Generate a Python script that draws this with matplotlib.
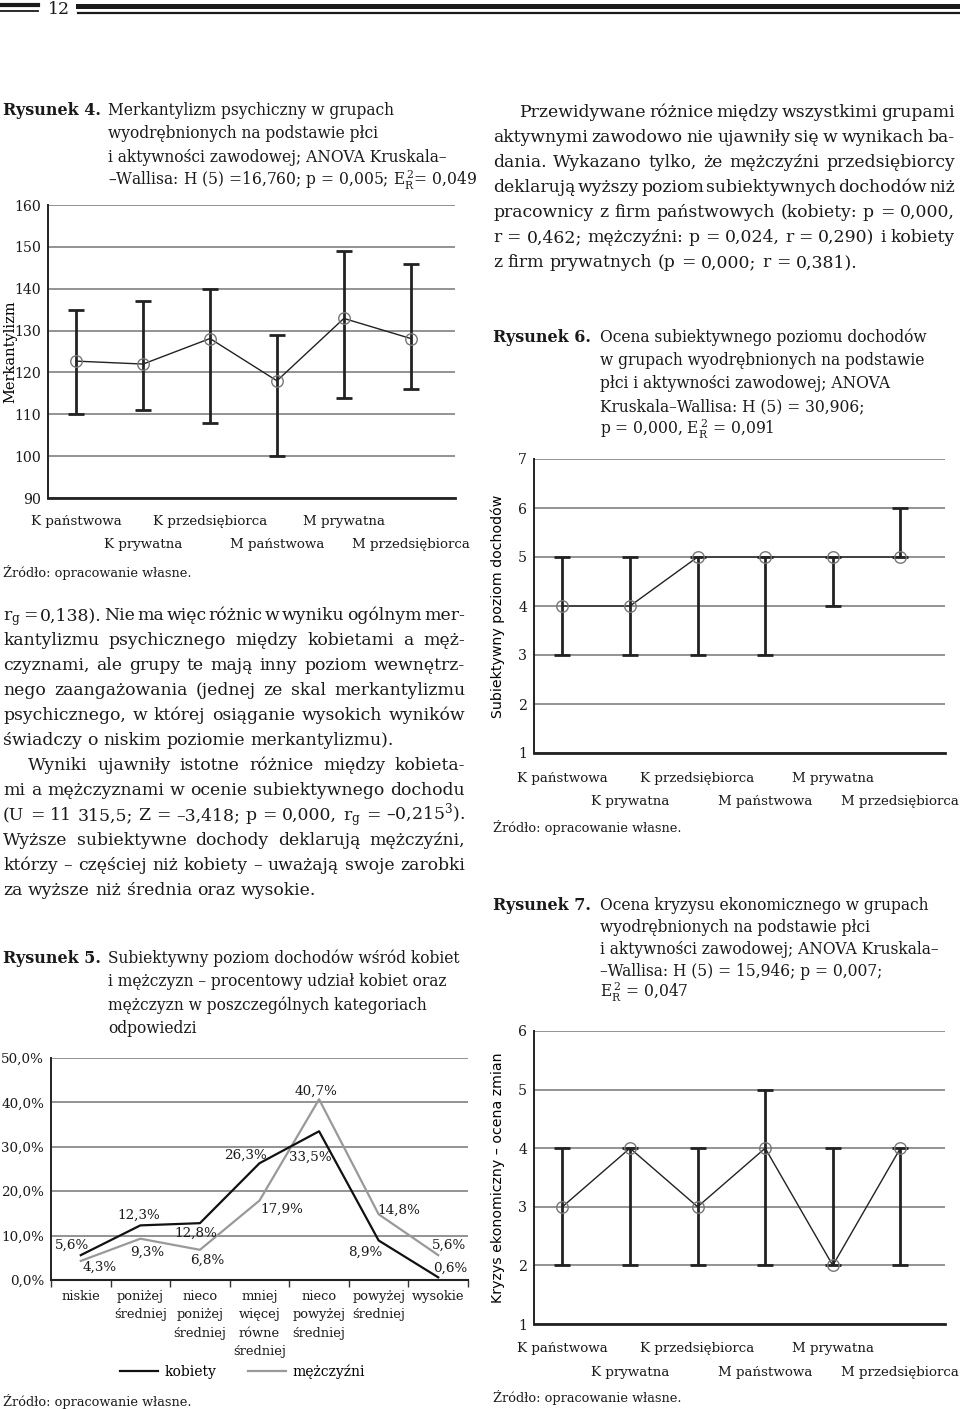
import matplotlib
matplotlib.use('Agg')
import matplotlib.pyplot as plt
from matplotlib.lines import Line2D
import numpy as np

W, H = 960, 1409
plt.rcParams['font.family'] = ['DejaVu Serif']
plt.rcParams['mathtext.fontset'] = 'dejavuserif'

# ---------------- data ----------------
groups = ['K państwowa', 'K prywatna', 'K przedsiębiorca',
          'M państwowa', 'M prywatna', 'M przedsiębiorca']
merk_mean = [122.7, 122.0, 128.1, 118.0, 132.9, 128.1]
merk_low = [110, 111, 108, 100, 114, 116]
merk_high = [135, 137, 140, 129, 149, 146]
merk_ticks = [90, 100, 110, 120, 130, 140, 150, 160]

doch_median = [4, 4, 5, 5, 5, 5]
doch_low = [3, 3, 3, 3, 4, 5]
doch_high = [5, 5, 5, 5, 5, 6]
doch_ticks = [1, 2, 3, 4, 5, 6, 7]

kryz_median = [3, 4, 3, 4, 2, 4]
kryz_low = [2, 2, 2, 2, 2, 2]
kryz_high = [4, 4, 4, 5, 4, 4]
kryz_ticks = [1, 2, 3, 4, 5, 6]

income_cats = ['niskie', 'poniżej\nśredniej', 'nieco\nponiżej\nśredniej',
               'mniej\nwięcej\nrówne\nśredniej', 'nieco\npowyżej\nśredniej',
               'powyżej\nśredniej', 'wysokie']
kobiety = [5.6, 12.3, 12.8, 26.3, 33.5, 8.9, 0.6]
mezczyzni = [4.3, 9.3, 6.8, 17.9, 40.7, 14.8, 5.6]
pct_ticks = [0, 10, 20, 30, 40, 50]

# ---------------- helpers ----------------
fig = plt.figure(figsize=(W / 100, H / 100), dpi=100)
fig.patch.set_facecolor('white')
renderer = fig.canvas.get_renderer()


def fx(x):
    return x / W


def fy(y):
    return 1 - y / H


def text_width(s, **kw):
    t = fig.text(0, 0, s, **kw)
    w = t.get_window_extent(renderer).width
    t.remove()
    return w


BODY = 12.4
CAP = 11.2


def put_line(line, x0, x1, y, justify=True, size=BODY):
    kw = dict(fontsize=size, va='baseline', color='#1a1a1a')
    words = line.split(' ')
    widths = [text_width(w, **kw) for w in words]
    if justify and len(words) > 1:
        gap = (x1 - x0 - sum(widths)) / (len(words) - 1)
    else:
        gap = text_width('a a', **kw) - text_width('aa', **kw)
    x = x0
    for w, wd in zip(words, widths):
        fig.text(fx(x), fy(y), w, **kw)
        x += wd + gap


def caption(label, lines, x_lab, x_txt, y0, dy, size=CAP):
    fig.text(fx(x_lab), fy(y0), label, fontsize=size + 0.3, fontweight='bold',
             va='baseline', color='#1a1a1a')
    for i, l in enumerate(lines):
        fig.text(fx(x_txt), fy(y0 + i * dy), l, fontsize=size, va='baseline',
                 color='#1a1a1a')


def source(x, y):
    fig.text(fx(x), fy(y), 'Źródło: opracowanie własne.', fontsize=9.3,
             va='baseline', color='#1a1a1a')


def add_ax(l, t, r, b):
    return fig.add_axes([fx(l), fy(b), (r - l) / W, (b - t) / H])


def style_ax(ax):
    ax.set_axisbelow(True)
    ax.yaxis.grid(True, color='#8a8a8a', lw=1.3)
    for s in ['top', 'right']:
        ax.spines[s].set_visible(False)
    ax.spines['left'].set_linewidth(1.4)
    ax.spines['bottom'].set_linewidth(2.0)
    ax.spines['left'].set_color('#222')
    ax.spines['bottom'].set_color('#222')
    ax.tick_params(axis='y', length=0, labelsize=10.2, pad=5, colors='#1a1a1a')


def group_chart(ax, mean, low, high, yticks, ylabel, ylab_kw, ylab_x, pad1, pad2):
    pos = np.arange(len(groups))
    mean = np.array(mean, float)
    yerr = [mean - np.array(low), np.array(high) - mean]
    ax.errorbar(pos, mean, yerr=yerr, fmt='none', ecolor='#222', elinewidth=2.0,
                capsize=5.5, capthick=2.0, zorder=3)
    ax.plot(pos, mean, color='#222', lw=1.0, zorder=4)
    ax.plot(pos, mean, 'o', ms=8.3, mfc='none', mec='#777', mew=1.0, zorder=5)
    style_ax(ax)
    ax.set_ylim(yticks[0], yticks[-1])
    ax.set_yticks(yticks)
    ax.set_xlim(-0.42, 5.66)
    ax.set_xticks(pos[0::2], [groups[i] for i in pos[0::2]])
    ax.set_xticks(pos[1::2], [groups[i] for i in pos[1::2]], minor=True)
    ax.tick_params(axis='x', which='major', length=0, pad=pad1, labelsize=9.6,
                   colors='#1a1a1a')
    ax.tick_params(axis='x', which='minor', length=0, pad=pad2, labelsize=9.6,
                   colors='#1a1a1a')
    ax.set_ylabel(ylabel, va='center', **ylab_kw)
    ax.yaxis.set_label_coords(ylab_x, 0.5)


# ---------------- header ----------------
for (x0, x1, y, lw) in [(0, 38, 4.7, 3.0), (0, 38, 11.3, 1.3),
                        (78, 960, 5.8, 3.6), (78, 960, 12.5, 1.6)]:
    fig.add_artist(Line2D([fx(x0), fx(x1)], [fy(y), fy(y)],
                          transform=fig.transFigure, color='#1a1a1a', lw=lw))
fig.text(fx(59), fy(9), '12', fontsize=12.5, ha='center', va='center',
         color='#1a1a1a')

# ---------------- Rysunek 4 ----------------
caption('Rysunek 4.', ['Merkantylizm psychiczny w grupach',
                       'wyodrębnionych na podstawie płci',
                       'i aktywności zawodowej; ANOVA Kruskala–',
                       '–Wallisa: H (5) =16,760; p = 0,005; E$_{\\mathrm{R}}^{\\,2}$= 0,049'],
        3, 108, 115, 23.5)
ax4 = add_ax(48, 205, 455, 498)
group_chart(ax4, merk_mean, merk_low, merk_high, merk_ticks, 'Merkantylizm',
            dict(fontsize=10.5), (10 - 48) / 407, 12, 29)
source(3, 577)

# ---------------- left body text ----------------
left_lines = [
    ('r$_{\\mathrm{g}}$ = 0,138). Nie ma więc różnic w wyniku ogólnym mer-', True, 3),
    ('kantylizmu psychicznego między kobietami a męż-', True, 3),
    ('czyznami, ale grupy te mają inny poziom wewnętrz-', True, 3),
    ('nego zaangażowania (jednej ze skal merkantylizmu', True, 3),
    ('psychicznego, w której osiąganie wysokich wyników', True, 3),
    ('świadczy o niskim poziomie merkantylizmu).', False, 3),
    ('Wyniki ujawniły istotne różnice między kobieta-', True, 28),
    ('mi a mężczyznami w ocenie subiektywnego dochodu', True, 3),
    ('(U = 11 315,5; Z = –3,418; p = 0,000, r$_{\\mathrm{g}}$ = –0,215$^{3}$).', True, 3),
    ('Wyższe subiektywne dochody deklarują mężczyźni,', True, 3),
    ('którzy – częściej niż kobiety – uważają swoje zarobki', True, 3),
    ('za wyższe niż średnia oraz wysokie.', False, 3),
]
for i, (l, j, x0) in enumerate(left_lines):
    put_line(l, x0, 465, 620 + i * 25, justify=j)

# ---------------- Rysunek 5 ----------------
caption('Rysunek 5.', ['Subiektywny poziom dochodów wśród kobiet',
                       'i mężczyzn – procentowy udział kobiet oraz',
                       'mężczyzn w poszczególnych kategoriach',
                       'odpowiedzi'],
        3, 108, 963, 23.3)
ax5 = add_ax(51, 1058, 468, 1280)
pos5 = np.arange(len(income_cats))
ax5.plot(pos5, kobiety, color='#111', lw=1.6, label='kobiety', zorder=4)
ax5.plot(pos5, mezczyzni, color='#999', lw=1.6, label='mężczyźni', zorder=3)
style_ax(ax5)
ax5.spines['bottom'].set_linewidth(1.5)
ax5.set_ylim(0, 50)
ax5.set_yticks(pct_ticks, [f'{v:.1f}%'.replace('.', ',') for v in pct_ticks])
ax5.tick_params(axis='y', labelsize=9.7, pad=5)
ax5.set_xlim(-0.5, len(income_cats) - 0.5)
ax5.set_xticks(pos5, income_cats)
ax5.set_xticks(np.arange(len(income_cats) + 1) - 0.5, minor=True)
ax5.tick_params(axis='x', which='major', length=0, pad=7, labelsize=9.4,
                colors='#1a1a1a')
ax5.tick_params(axis='x', which='minor', length=5, width=1, direction='out',
                colors='#333')
for lab in ax5.get_xticklabels():
    lab.set_linespacing(1.55)
k_off = [(-9, 10), (-2, 10), (-4, -10), (-14, 8), (-9, -26), (-13, -12), (12, 9)]
m_off = [(19, -6), (7, -14), (7, -10), (22, -9), (-3, 8), (20, 4), (11, 10)]
for series, offs in [(kobiety, k_off), (mezczyzni, m_off)]:
    for i, (v, (dx, dy)) in enumerate(zip(series, offs)):
        ax5.annotate(f'{v:.1f}%'.replace('.', ','), (i, v),
                     xytext=(dx * 0.72, dy * 0.72), textcoords='offset points',
                     ha='center', va='center', fontsize=9.7, color='#1a1a1a',
                     zorder=6)
ax5.legend(loc='center', bbox_to_anchor=(0.46, -0.414), ncol=2, frameon=False,
           fontsize=10, handlelength=2.7, columnspacing=2.3, handletextpad=0.5)
source(3, 1406)

# ---------------- right body text ----------------
right_lines = [
    ('Przewidywane różnice między wszystkimi grupami', True, 519),
    ('aktywnymi zawodowo nie ujawniły się w wynikach ba-', True, 493),
    ('dania. Wykazano tylko, że mężczyźni przedsiębiorcy', True, 493),
    ('deklarują wyższy poziom subiektywnych dochodów niż', True, 493),
    ('pracownicy z firm państwowych (kobiety: p = 0,000,', True, 493),
    ('r = 0,462; mężczyźni: p = 0,024, r = 0,290) i kobiety', True, 493),
    ('z firm prywatnych (p = 0,000; r = 0,381).', False, 493),
]
for i, (l, j, x0) in enumerate(right_lines):
    put_line(l, x0, 955, 117 + i * 25, justify=j)

# ---------------- Rysunek 6 ----------------
caption('Rysunek 6.', ['Ocena subiektywnego poziomu dochodów',
                       'w grupach wyodrębnionych na podstawie',
                       'płci i aktywności zawodowej; ANOVA',
                       'Kruskala–Wallisa: H (5) = 30,906;',
                       'p = 0,000, E$_{\\mathrm{R}}^{\\,2}$ = 0,091'],
        493, 600, 342, 23)
ax6 = add_ax(534, 459, 945, 753)
group_chart(ax6, doch_median, doch_low, doch_high, doch_ticks,
            'Subiektywny poziom dochodów',
            dict(fontsize=10.2, family='DejaVu Sans'), (498 - 534) / 411, 14, 30)
source(493, 832)

# ---------------- Rysunek 7 ----------------
caption('Rysunek 7.', ['Ocena kryzysu ekonomicznego w grupach',
                       'wyodrębnionych na podstawie płci',
                       'i aktywności zawodowej; ANOVA Kruskala–',
                       '–Wallisa: H (5) = 15,946; p = 0,007;',
                       'E$_{\\mathrm{R}}^{\\,2}$ = 0,047'],
        493, 600, 910, 22)
ax7 = add_ax(534, 1031, 945, 1324)
group_chart(ax7, kryz_median, kryz_low, kryz_high, kryz_ticks,
            'Kryzys ekonomiczny – ocena zmian',
            dict(fontsize=10.2, family='DejaVu Sans'), (498 - 534) / 411, 13, 30)
source(493, 1402)

fig.savefig('out.png', dpi=100, facecolor='white')
